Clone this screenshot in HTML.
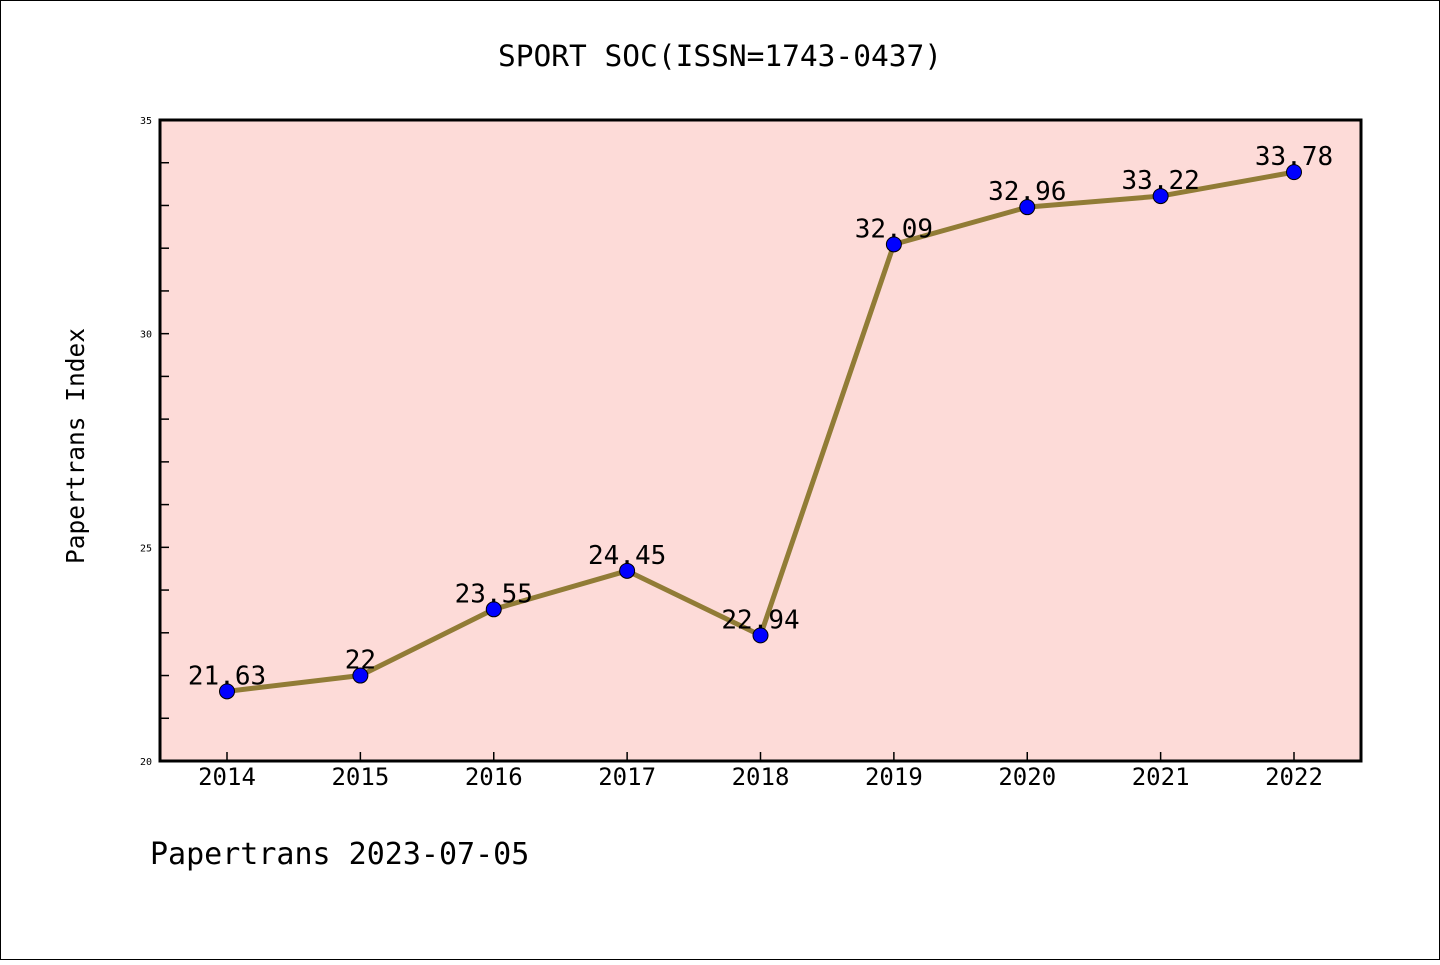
<!DOCTYPE html>
<html><head><meta charset="utf-8"><style>
body{margin:0;background:#fff}
svg text{font-family:"DejaVu Sans Mono","Liberation Mono",monospace}
</style></head><body>
<svg width="1440" height="960" xmlns="http://www.w3.org/2000/svg">
<rect x="0.5" y="0.5" width="1439" height="959" fill="#fff" stroke="#000"/>
<text x="720" y="66" font-size="29.5" text-anchor="middle">SPORT SOC(ISSN=1743-0437)</text>
<rect x="160" y="120" width="1201" height="641" fill="#fddbd8"/>
<g id="ticks"></g>
<g id="series"></g>
<rect x="160" y="120" width="1201" height="641" fill="none" stroke="#000" stroke-width="3"/>
<text transform="translate(84,446) rotate(-90)" font-size="24.5" text-anchor="middle">Papertrans Index</text>
<text x="150" y="864" font-size="30">Papertrans 2023-07-05</text>
</svg>
<script>
const categories=["2014","2015","2016","2017","2018","2019","2020","2021","2022"];
const values=[21.63,22,23.55,24.45,22.94,32.09,32.96,33.22,33.78];
const labels=["21.63","22","23.55","24.45","22.94","32.09","32.96","33.22","33.78"];
const yTicks=[20,25,30,35];
const NS="http://www.w3.org/2000/svg";
const L=160,R=1361,T=120,B=761,ymin=20,ymax=35;
const x=i=>227+i*(1294-227)/(categories.length-1);
const y=v=>B-(v-ymin)/(ymax-ymin)*(B-T);
function mk(t,a,p){const e=document.createElementNS(NS,t);for(const k in a)e.setAttribute(k,a[k]);p.appendChild(e);return e;}
const tg=document.getElementById('ticks'),sg=document.getElementById('series');
for(let v=ymin;v<=ymax;v++){const l=mk('line',{x1:L,x2:L+9,y1:y(v),y2:y(v),stroke:'#000','stroke-width':1.5},tg);

}
yTicks.forEach(v=>{const t=mk('text',{x:L-8,y:y(v)+4,'font-size':10,'text-anchor':'end'},tg);t.textContent=v;

});
categories.forEach((c,i)=>{const l=mk('line',{x1:x(i),x2:x(i),y1:B,y2:B-9,stroke:'#000','stroke-width':1.5},tg);


const t=mk('text',{x:x(i),y:B+24,'font-size':24,'text-anchor':'middle'},tg);t.textContent=c;

});
const pl=mk('polyline',{points:values.map((v,i)=>x(i)+','+y(v)).join(' '),fill:'none',stroke:'#917c36','stroke-width':5,'stroke-linejoin':'round'},sg);


values.forEach((v,i)=>{const c=mk('circle',{cx:x(i),cy:y(v),r:7.5,fill:'#0000ff',stroke:'#000','stroke-width':1},sg);


const t=mk('text',{x:x(i),y:y(v)-7,'font-size':26,'text-anchor':'middle'},sg);t.textContent=labels[i];

});
</script>
</body></html>
